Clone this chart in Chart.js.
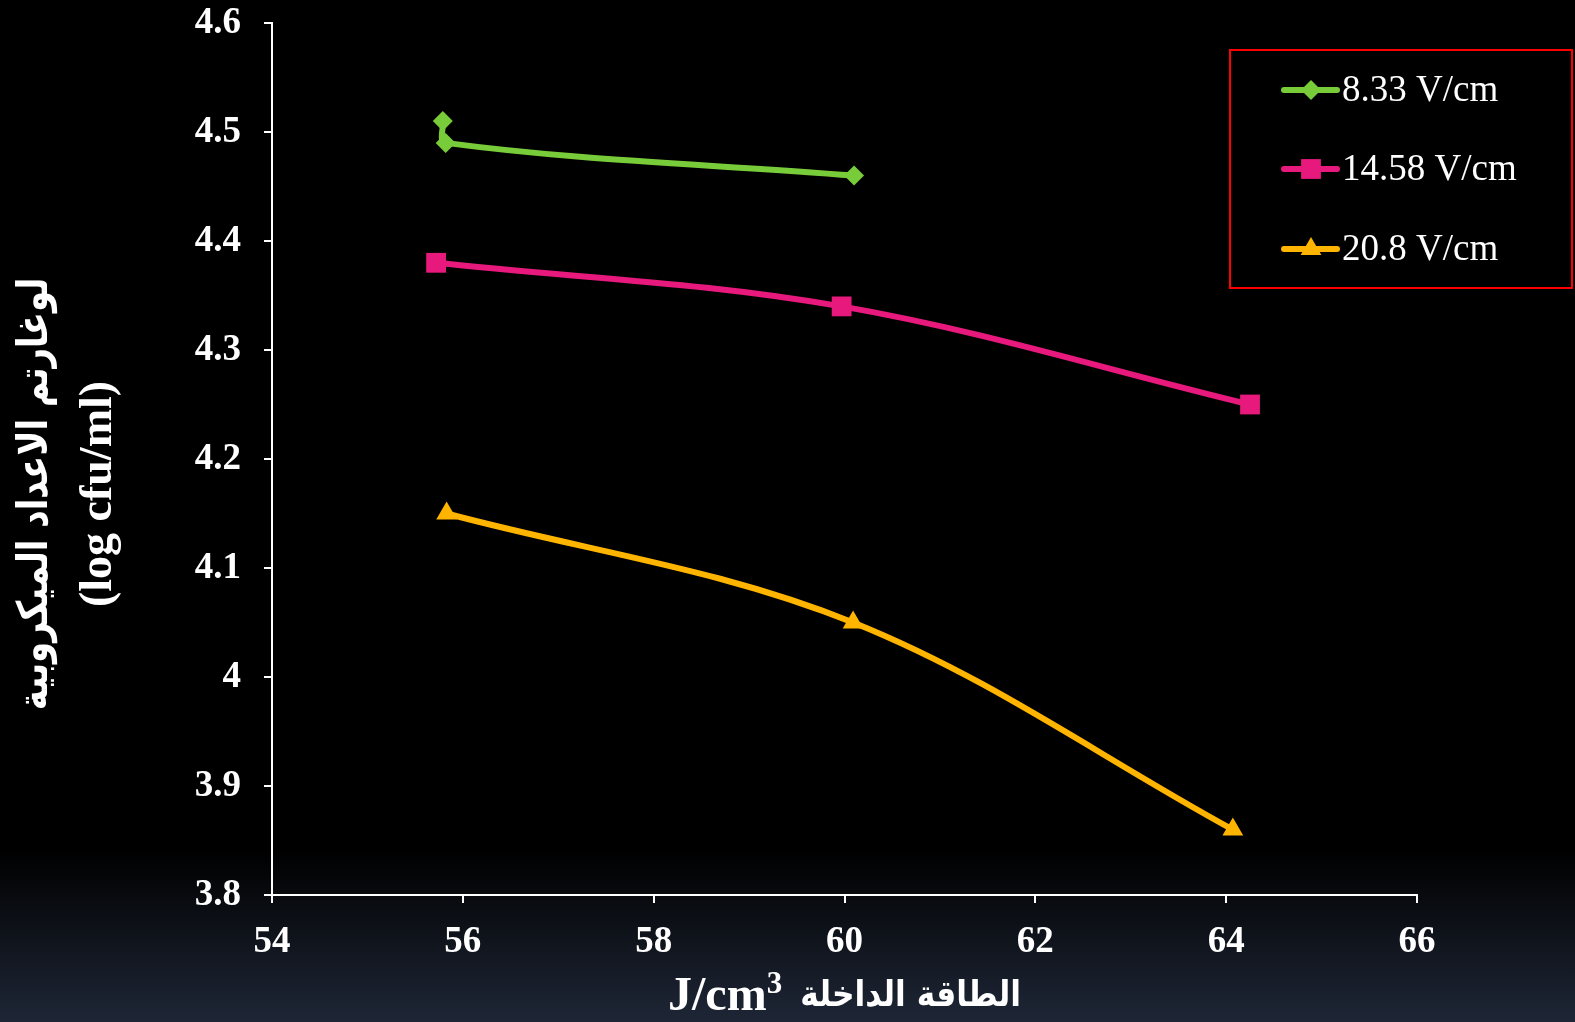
<!DOCTYPE html>
<html>
<head>
<meta charset="utf-8">
<script src="https://cdn.jsdelivr.net/npm/chart.js@4/dist/chart.umd.min.js"></script>
<style>
  html, body { margin: 0; padding: 0; background: #000; }
  #wrap { width: 1575px; height: 1022px; position: relative; }
</style>
</head>
<body>
<div id="wrap"><canvas id="myChart"></canvas></div>
<script>
// Energy (J/cm3) vs log count for each field strength
const seriesLabels = ['8.33 V/cm', '14.58 V/cm', '20.8 V/cm'];

const greenX = [55.79, 55.82, 60.1];
const greenY = [4.51, 4.49, 4.46];

const pinkX = [55.72, 59.97, 64.25];
const pinkY = [4.38, 4.34, 4.25];

const orangeX = [55.83, 60.09, 64.07];
const orangeY = [4.15, 4.05, 3.86];

const xUnit = ['J/cm', '3'];
const xTitleAr = 'الطاقة الداخلة';
const yTitle = ['لوغارتم الاعداد الميكروبية', '(log cfu/ml)'];

const serif = '"Liberation Serif", "DejaVu Sans", serif';
const arabic = '"DejaVu Sans", sans-serif';

function pts(xs, ys) {
  return xs.map((x, i) => ({ x: x, y: ys[i] }));
}

function series(label, xs, ys, color, style, r) {
  return {
    label: label,
    data: pts(xs, ys),
    borderColor: color,
    backgroundColor: color,
    borderWidth: 6,
    pointStyle: style,
    pointRadius: r,
    pointBorderWidth: 0,
    tension: 0.35,
    showLine: true
  };
}

// black page fading to dark blue at the bottom
const bgPlugin = {
  id: 'bg',
  beforeDraw(chart) {
    const ctx = chart.ctx;
    const h = chart.height;
    const g = ctx.createLinearGradient(0, 850, 0, h);
    g.addColorStop(0, '#000000');
    g.addColorStop(1, '#1e2636');
    ctx.save();
    ctx.fillStyle = g;
    ctx.fillRect(0, 0, chart.width, h);
    ctx.restore();
  }
};

// boxed legend with line + marker samples
const boxLegend = {
  id: 'boxLegend',
  afterDraw(chart) {
    const ctx = chart.ctx;
    ctx.save();
    ctx.strokeStyle = '#ff0000';
    ctx.lineWidth = 2;
    ctx.strokeRect(1230, 50, 342, 238);
    const rows = [90, 169, 249];
    chart.data.datasets.forEach((ds, i) => {
      const y = rows[i];
      ctx.strokeStyle = ds.borderColor;
      ctx.lineWidth = 6;
      ctx.lineCap = 'round';
      ctx.beginPath();
      ctx.moveTo(1284, y);
      ctx.lineTo(1337, y);
      ctx.stroke();
      ctx.fillStyle = ds.backgroundColor;
      Chart.helpers.drawPoint(ctx, { pointStyle: ds.pointStyle, radius: ds.pointRadius, borderWidth: 0 }, 1311, y);
      ctx.fillStyle = '#ffffff';
      ctx.font = '37px ' + serif;
      ctx.textBaseline = 'middle';
      ctx.textAlign = 'left';
      ctx.fillText(ds.label, 1342, y + 1);
    });
    ctx.restore();
  }
};

// axis titles: mixed Arabic / Latin text, Arabic run set a little condensed
const titlesPlugin = {
  id: 'titles',
  afterDraw(chart) {
    const ctx = chart.ctx;
    ctx.save();
    ctx.fillStyle = '#ffffff';
    ctx.textBaseline = 'alphabetic';
    ctx.textAlign = 'left';

    // x title: "J/cm3  <arabic>"
    const arScale = 0.87;
    ctx.font = 'bold 48px ' + serif;
    const wUnit = ctx.measureText(xUnit[0]).width;
    ctx.font = 'bold 31px ' + serif;
    const wSup = ctx.measureText(xUnit[1]).width;
    ctx.font = 'bold 36px ' + arabic;
    const wAr = ctx.measureText(xTitleAr).width * arScale;
    const gap = 18;
    const total = wUnit + wSup + gap + wAr;
    const cx = (chart.chartArea.left + chart.chartArea.right) / 2;
    let x = cx - total / 2;
    const base = 1010;
    ctx.font = 'bold 48px ' + serif;
    ctx.fillText(xUnit[0], x, base);
    x += wUnit;
    ctx.font = 'bold 31px ' + serif;
    ctx.fillText(xUnit[1], x, base - 17);
    x += wSup + gap;
    ctx.save();
    ctx.translate(x, base - 4);
    ctx.scale(arScale, 1);
    ctx.font = 'bold 36px ' + arabic;
    ctx.fillText(xTitleAr, 0, 0);
    ctx.restore();

    // y title, rotated, two lines
    ctx.textAlign = 'center';
    ctx.textBaseline = 'middle';
    ctx.translate(0, 494);
    ctx.rotate(-Math.PI / 2);
    ctx.save();
    ctx.scale(0.81, 1);
    ctx.font = 'bold 42px ' + arabic;
    ctx.fillText(yTitle[0], 0, 36);
    ctx.restore();
    ctx.font = 'bold 46px ' + serif;
    ctx.fillText(yTitle[1], 0, 99);
    ctx.restore();
  }
};

new Chart('myChart', {
  type: 'scatter',
  data: {
    datasets: [
      series(seriesLabels[0], greenX, greenY, '#78cc3a', 'rectRot', 10),
      series(seriesLabels[1], pinkX, pinkY, '#e8197d', 'rect', 14),
      series(seriesLabels[2], orangeX, orangeY, '#ffb400', 'triangle', 12)
    ]
  },
  options: {
    responsive: true,
    maintainAspectRatio: false,
    animation: false,
    layout: { padding: { top: 23, right: 158, left: 0, bottom: 0 } },
    plugins: {
      legend: { display: false },
      tooltip: { enabled: false }
    },
    scales: {
      x: {
        type: 'linear',
        min: 54,
        max: 66,
        ticks: {
          stepSize: 2,
          color: '#ffffff',
          padding: 17,
          maxRotation: 0,
          font: { family: serif, size: 37, weight: 'bold' }
        },
        grid: { drawOnChartArea: false, drawTicks: true, tickLength: 8, color: '#ffffff', lineWidth: 2 },
        border: { color: '#ffffff', width: 2 },
        afterFit(scale) { scale.height = 127; }
      },
      y: {
        type: 'linear',
        min: 3.8,
        max: 4.6,
        ticks: {
          stepSize: 0.1,
          color: '#ffffff',
          padding: 23,
          font: { family: serif, size: 37, weight: 'bold' },
          callback: v => String(Number(v.toFixed(1)))
        },
        grid: { drawOnChartArea: false, drawTicks: true, tickLength: 8, color: '#ffffff', lineWidth: 2 },
        border: { color: '#ffffff', width: 2 },
        afterFit(scale) {
          scale.width = 272;
          scale.paddingTop = 0;
          scale.paddingBottom = 0;
        }
      }
    }
  },
  plugins: [bgPlugin, boxLegend, titlesPlugin]
});
</script>
</body>
</html>
